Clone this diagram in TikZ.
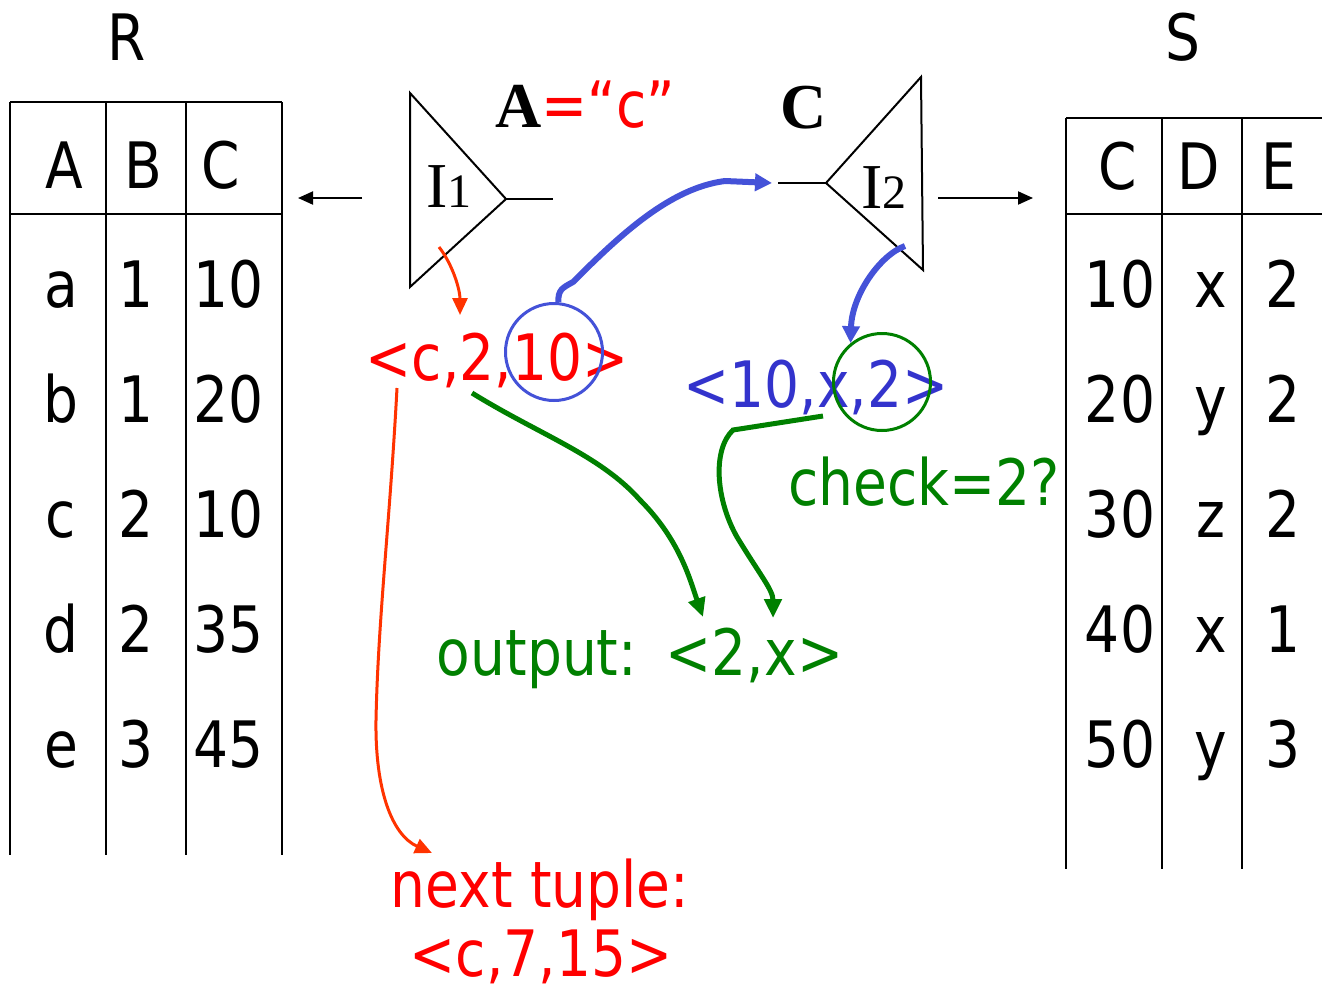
\documentclass[tikz,border=0pt]{standalone}
\usepackage{fontspec}
\setmainfont{DejaVu Sans}[FakeStretch=0.86]
\newfontfamily\timesfont{Liberation Serif}
\usepackage{xcolor}
\usetikzlibrary{arrows.meta, positioning, calc}
\definecolor{tupred}{HTML}{FF0000}
\definecolor{arrred}{HTML}{FF3300}
\definecolor{tupblue}{HTML}{3333CC}
\definecolor{arrblue}{HTML}{4452D8}
\definecolor{okgreen}{HTML}{008000}

\begin{document}
\begin{tikzpicture}[x=0.5pt, y=-0.5pt,
    txt/.style={font=\fontsize{32}{38}\selectfont, inner sep=0pt, anchor=base},
    grid/.style={line width=1pt},
    tri/.style={line width=1pt, line join=miter},
    ptr/.style={-{Triangle[length=7.5pt,width=6.5pt]}, line width=1pt},
    redarr/.style={-{Triangle[length=8.5pt,width=7.5pt]}, arrred, line width=1.5pt},
    bluearr/.style={-{Triangle[length=8.5pt,width=8.5pt]}, arrblue, line width=3pt},
    greenarr/.style={-{Triangle[length=9.5pt,width=8.5pt]}, okgreen, line width=2.5pt},
    ring/.style={circle, minimum size=48.5pt, inner sep=0pt, line width=1.5pt}
]
\useasboundingbox (0,0) rectangle (1322,991);

% relation R
\node[txt] (rname) at (127,60) {R};
\draw[grid] (10,102) -- (282,102);
\draw[grid] (10,214) -- (282,214);
\foreach \x in {10,106,186,282}
    \draw[grid] (\x,102) -- (\x,855);
\node[txt] (rhA) at (64,188) {A};
\node[txt] (rhB) at (143,188) {B};
\node[txt] (rhC) at (221,188) {C};
\foreach \a/\b/\c [count=\i] in {a/1/10, b/1/20, c/2/10, d/2/35, e/3/45} {
    \node[txt] (ra\i) at (61,{192+115*\i}) {\a};
    \node[txt] (rb\i) at (136,{192+115*\i}) {\b};
    \node[txt] (rc\i) at (229,{192+115*\i}) {\c};
}

% relation S
\node[txt] (sname) at (1183,60) {S};
\draw[grid] (1066,118) -- (1322,118);
\draw[grid] (1066,214) -- (1322,214);
\foreach \x in {1066,1162,1242}
    \draw[grid] (\x,118) -- (\x,869);
\node[txt] (shC) at (1118,189) {C};
\node[txt] (shD) at (1199,189) {D};
\node[txt] (shE) at (1279,189) {E};
\foreach \c/\d/\e [count=\i] in {10/x/2, 20/y/2, 30/z/2, 40/x/1, 50/y/3} {
    \node[txt] (sc\i) at (1120,{192+115*\i}) {\c};
    \node[txt] (sd\i) at (1211,{192+115*\i}) {\d};
    \node[txt] (se\i) at (1283,{192+115*\i}) {\e};
}

% index I1 on A
\coordinate (i1top) at (410,93);
\coordinate (i1tip) at (506,199);
\coordinate (i1bot) at (410,287);
\draw[tri] (i1top) -- (i1tip) -- (i1bot) -- cycle;
\node[txt] (i1) at (449,207) {\timesfont I{\fontsize{24}{28}\selectfont 1}};
\node[txt, anchor=base west] (selA) at (495,127) {{\timesfont\bfseries A}\textcolor{tupred}{=“c”}};
\coordinate (i1out) at (553,199);
\coordinate (i1left) at (362,198);
\coordinate (rin) at (298,198);
\draw[tri] (i1tip) -- (i1out);
\draw[ptr] (i1left) -- (rin);

% index I2 on C
\coordinate (i2top) at (921,77);
\coordinate (i2tip) at (826,183);
\coordinate (i2bot) at (923,270);
\draw[tri] (i2top) -- (i2tip) -- (i2bot) -- cycle;
\node[txt] (i2) at (884,208) {\timesfont I{\fontsize{24}{28}\selectfont 2}};
\node[txt] (selC) at (804,128) {\timesfont\bfseries C};
\coordinate (i2in) at (778,183);
\coordinate (i2right) at (938,198);
\coordinate (sin) at (1033,198);
\draw[tri] (i2in) -- (i2tip);
\draw[ptr] (i2right) -- (sin);

% tuples and notes
\node[txt, text=tupred] (rtup) at (497,380) {<c,2,10>};
\node[txt, text=tupblue] (stup) at (816,407) {<10,x,2>};
\node[txt, text=okgreen] (chk) at (924,505) {check=2?};
\node[txt, text=okgreen] (out) at (640,675) {output:\hspace{0.45em}<2,x>};
\node[txt, text=tupred] (nxt) at (540,907) {next tuple:};
\node[txt, text=tupred] (nxttup) at (541,976) {<c,7,15>};

\node[ring, draw=arrblue] (bring) at (554,352) {};
\node[ring, draw=okgreen] (gring) at (882,382) {};

\coordinate (i1edge) at (439,247);
\coordinate (rhit) at (460,315);
\coordinate (rfrom) at (397,388);
\coordinate (nhit) at (432,853);
\coordinate (jin) at (772,183);
\coordinate (i2edge) at (905,246);
\coordinate (gfrom) at (472,393);
\coordinate (ghit) at (703,617);
\coordinate (sfrom) at (823,416);
\coordinate (shit) at (773,618);

\draw[redarr] (i1edge) .. controls (453,265) and (460,290) .. (rhit);
\draw[redarr] (rfrom) .. controls (390,520) and (378,620) .. (376,720)
    .. controls (375,790) and (392,835) .. (nhit);
\draw[bluearr] (bring.85) .. controls (558,290) and (562,288) .. (573,282)
    .. controls (620,235) and (670,188) .. (725,181) -- (jin);
\draw[bluearr] (i2edge) .. controls (880,255) and (852,295) .. (gring.129);
\draw[greenarr] (gfrom) .. controls (540,435) and (600,455) .. (640,500)
    .. controls (680,540) and (690,580) .. (ghit);
\draw[greenarr] (sfrom) -- (733,430) .. controls (712,450) and (716,500) .. (737,537)
    .. controls (760,575) and (773,590) .. (shit);
\end{tikzpicture}
\end{document}
